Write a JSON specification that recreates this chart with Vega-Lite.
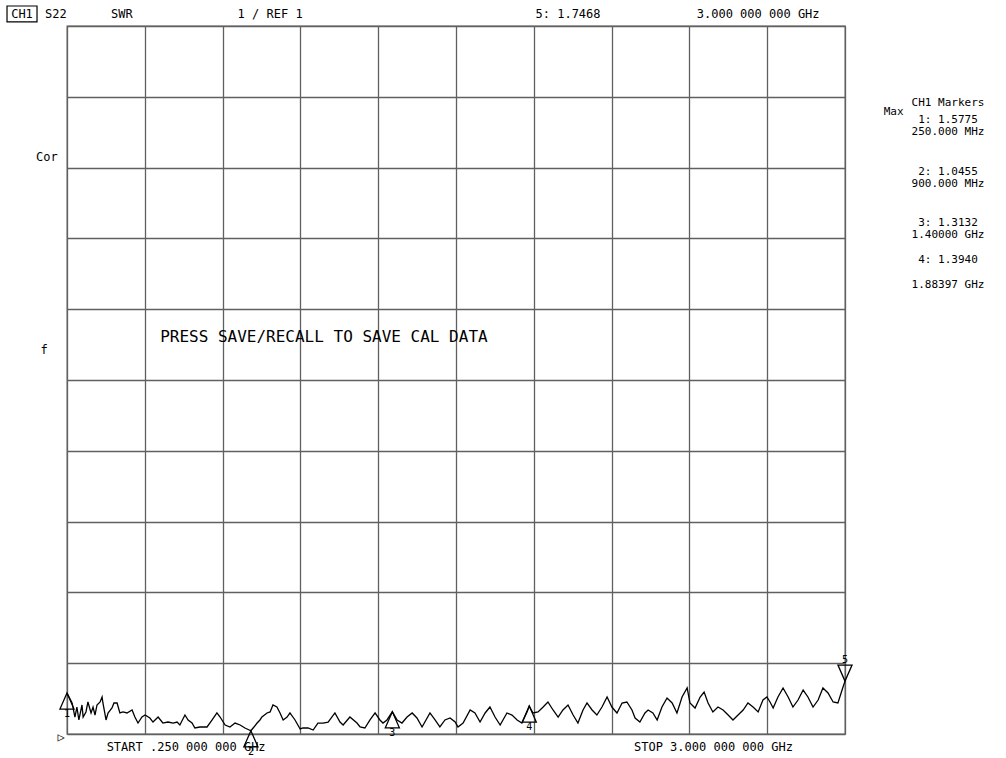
{
  "$schema": "https://vega.github.io/schema/vega-lite/v6.json",
  "width": 778,
  "height": 708,
  "autosize": {"type": "none"},
  "padding": {"left": 67, "top": 26, "right": 161, "bottom": 24},
  "background": "white",
  "config": {
    "view": {"stroke": "#606060", "strokeWidth": 1.3},
    "font": "DejaVu Sans Mono"
  },
  "datasets": {
    "trace": [
      {"f":0.25,"swr":1.5775},{"f":0.268,"swr":1.438},{"f":0.278,"swr":1.24},{"f":0.285,"swr":1.381},{"f":0.292,"swr":1.198},{"f":0.303,"swr":1.41},{"f":0.307,"swr":1.24},{"f":0.317,"swr":1.311},{"f":0.324,"swr":1.452},{"f":0.335,"swr":1.297},{"f":0.342,"swr":1.381},{"f":0.349,"swr":1.268},{"f":0.356,"swr":1.41},{"f":0.367,"swr":1.452},{"f":0.374,"swr":1.523},{"f":0.377,"swr":1.438},{"f":0.388,"swr":1.198},{"f":0.395,"swr":1.297},{"f":0.409,"swr":1.367},{"f":0.416,"swr":1.438},{"f":0.427,"swr":1.438},{"f":0.437,"swr":1.297},{"f":0.448,"swr":1.311},{"f":0.462,"swr":1.297},{"f":0.48,"swr":1.339},{"f":0.49,"swr":1.24},{"f":0.501,"swr":1.155},{"f":0.515,"swr":1.24},{"f":0.526,"swr":1.268},{"f":0.543,"swr":1.226},{"f":0.554,"swr":1.169},{"f":0.572,"swr":1.24},{"f":0.589,"swr":1.155},{"f":0.607,"swr":1.169},{"f":0.625,"swr":1.155},{"f":0.639,"swr":1.169},{"f":0.649,"swr":1.127},{"f":0.667,"swr":1.268},{"f":0.678,"swr":1.198},{"f":0.692,"swr":1.155},{"f":0.702,"swr":1.085},{"f":0.72,"swr":1.099},{"f":0.745,"swr":1.099},{"f":0.763,"swr":1.198},{"f":0.78,"swr":1.297},{"f":0.791,"swr":1.24},{"f":0.809,"swr":1.127},{"f":0.826,"swr":1.099},{"f":0.844,"swr":1.155},{"f":0.862,"swr":1.127},{"f":0.879,"swr":1.085},{"f":0.9,"swr":1.0455},{"f":0.908,"swr":1.085},{"f":0.922,"swr":1.155},{"f":0.932,"swr":1.198},{"f":0.939,"swr":1.24},{"f":0.957,"swr":1.297},{"f":0.968,"swr":1.311},{"f":0.978,"swr":1.41},{"f":0.992,"swr":1.381},{"f":1.003,"swr":1.297},{"f":1.014,"swr":1.198},{"f":1.028,"swr":1.24},{"f":1.038,"swr":1.297},{"f":1.056,"swr":1.198},{"f":1.074,"swr":1.071},{"f":1.084,"swr":1.085},{"f":1.102,"swr":1.085},{"f":1.12,"swr":1.056},{"f":1.137,"swr":1.155},{"f":1.155,"swr":1.155},{"f":1.173,"swr":1.169},{"f":1.197,"swr":1.297},{"f":1.215,"swr":1.169},{"f":1.226,"swr":1.127},{"f":1.25,"swr":1.24},{"f":1.275,"swr":1.155},{"f":1.286,"swr":1.099},{"f":1.303,"swr":1.085},{"f":1.321,"swr":1.198},{"f":1.339,"swr":1.297},{"f":1.356,"swr":1.198},{"f":1.367,"swr":1.155},{"f":1.381,"swr":1.198},{"f":1.4,"swr":1.3132},{"f":1.417,"swr":1.198},{"f":1.434,"swr":1.155},{"f":1.452,"swr":1.24},{"f":1.47,"swr":1.297},{"f":1.487,"swr":1.226},{"f":1.505,"swr":1.099},{"f":1.533,"swr":1.297},{"f":1.551,"swr":1.198},{"f":1.568,"swr":1.099},{"f":1.586,"swr":1.198},{"f":1.604,"swr":1.226},{"f":1.622,"swr":1.169},{"f":1.632,"swr":1.099},{"f":1.65,"swr":1.155},{"f":1.675,"swr":1.339},{"f":1.692,"swr":1.297},{"f":1.71,"swr":1.169},{"f":1.728,"swr":1.297},{"f":1.745,"swr":1.381},{"f":1.763,"swr":1.24},{"f":1.781,"swr":1.127},{"f":1.805,"swr":1.297},{"f":1.823,"swr":1.268},{"f":1.841,"swr":1.198},{"f":1.858,"swr":1.155},{"f":1.876,"swr":1.311},{"f":1.884,"swr":1.394},{"f":1.897,"swr":1.297},{"f":1.915,"swr":1.311},{"f":1.933,"swr":1.381},{"f":1.95,"swr":1.452},{"f":1.968,"swr":1.339},{"f":1.986,"swr":1.24},{"f":2.003,"swr":1.339},{"f":2.021,"swr":1.41},{"f":2.039,"swr":1.268},{"f":2.056,"swr":1.155},{"f":2.074,"swr":1.339},{"f":2.088,"swr":1.438},{"f":2.106,"swr":1.339},{"f":2.123,"swr":1.268},{"f":2.141,"swr":1.381},{"f":2.159,"swr":1.523},{"f":2.176,"swr":1.381},{"f":2.194,"swr":1.297},{"f":2.212,"swr":1.438},{"f":2.229,"swr":1.452},{"f":2.247,"swr":1.339},{"f":2.258,"swr":1.226},{"f":2.275,"swr":1.169},{"f":2.293,"swr":1.297},{"f":2.304,"swr":1.339},{"f":2.321,"swr":1.297},{"f":2.336,"swr":1.198},{"f":2.353,"swr":1.381},{"f":2.371,"swr":1.508},{"f":2.389,"swr":1.438},{"f":2.406,"swr":1.297},{"f":2.424,"swr":1.523},{"f":2.442,"swr":1.65},{"f":2.452,"swr":1.438},{"f":2.47,"swr":1.367},{"f":2.488,"swr":1.523},{"f":2.502,"swr":1.593},{"f":2.516,"swr":1.438},{"f":2.533,"swr":1.311},{"f":2.551,"swr":1.381},{"f":2.569,"swr":1.339},{"f":2.587,"swr":1.268},{"f":2.604,"swr":1.198},{"f":2.622,"swr":1.268},{"f":2.64,"swr":1.339},{"f":2.657,"swr":1.438},{"f":2.675,"swr":1.381},{"f":2.693,"swr":1.311},{"f":2.71,"swr":1.48},{"f":2.724,"swr":1.523},{"f":2.735,"swr":1.452},{"f":2.746,"swr":1.367},{"f":2.763,"swr":1.523},{"f":2.781,"swr":1.65},{"f":2.799,"swr":1.523},{"f":2.816,"swr":1.381},{"f":2.834,"swr":1.48},{"f":2.852,"swr":1.621},{"f":2.869,"swr":1.523},{"f":2.887,"swr":1.381},{"f":2.905,"swr":1.48},{"f":2.922,"swr":1.65},{"f":2.94,"swr":1.579},{"f":2.958,"swr":1.452},{"f":2.975,"swr":1.438},{"f":2.993,"swr":1.664},{"f":3.0,"swr":1.7468}
    ],
    "markers": [
      {"n":"1","f":0.25,"swr":1.5775,"dir":"up"},
      {"n":"2","f":0.9,"swr":1.0455,"dir":"up"},
      {"n":"3","f":1.4,"swr":1.3132,"dir":"up"},
      {"n":"4","f":1.88397,"swr":1.394,"dir":"up"},
      {"n":"5","f":3.0,"swr":1.7468,"dir":"down"}
    ],
    "header": [
      {"t":"CH1","f":0.091,"swr":11.17},
      {"t":"S22","f":0.211,"swr":11.17},
      {"t":"SWR","f":0.444,"swr":11.17},
      {"t":"1 / REF 1","f":0.968,"swr":11.17},
      {"t":"5: 1.7468","f":2.021,"swr":11.17},
      {"t":"3.000 000 000 GHz","f":2.693,"swr":11.17},
      {"t":"Cor","f":0.179,"swr":9.15},
      {"t":"f","f":0.169,"swr":6.42},
      {"t":"START .250 000 000 GHz","f":0.671,"swr":0.816},
      {"t":"STOP 3.000 000 000 GHz","f":2.535,"swr":0.816},
      {"t":"▷","f":0.229,"swr":0.958}
    ],
    "panel": [
      {"t":"CH1 Markers","f":3.364,"swr":9.912},
      {"t":"Max","f":3.172,"swr":9.785},
      {"t":"1: 1.5775","f":3.364,"swr":9.672},
      {"t":"250.000 MHz","f":3.364,"swr":9.503},
      {"t":"2: 1.0455","f":3.364,"swr":8.938},
      {"t":"900.000 MHz","f":3.364,"swr":8.768},
      {"t":"3: 1.3132","f":3.364,"swr":8.217},
      {"t":"1.40000 GHz","f":3.364,"swr":8.048},
      {"t":"4: 1.3940","f":3.364,"swr":7.695},
      {"t":"1.88397 GHz","f":3.364,"swr":7.342}
    ],
    "message": [
      {"t":"PRESS SAVE/RECALL TO SAVE CAL DATA","f":1.158,"swr":6.607}
    ]
  },
  "encoding": {
    "x": {
      "field": "f", "type": "quantitative",
      "scale": {"domain": [0.25, 3.0], "nice": false, "zero": false},
      "axis": {"values": [0.25,0.525,0.8,1.075,1.35,1.625,1.9,2.175,2.45,2.725,3.0], "grid": true, "labels": false, "ticks": false, "domain": false, "title": null, "gridColor": "#606060", "gridWidth": 1.3, "gridOpacity": 1}
    },
    "y": {
      "field": "swr", "type": "quantitative",
      "scale": {"domain": [1, 11], "nice": false, "zero": false},
      "axis": {"values": [1,2,3,4,5,6,7,8,9,10,11], "grid": true, "labels": false, "ticks": false, "domain": false, "title": null, "gridColor": "#606060", "gridWidth": 1.3, "gridOpacity": 1}
    }
  },
  "layer": [
    {
      "data": {"name": "trace"},
      "mark": {"type": "line", "color": "#000000", "strokeWidth": 1.3, "interpolate": "linear"}
    },
    {
      "data": {"name": "markers"},
      "mark": {"type": "point", "filled": false, "stroke": "#000000", "strokeWidth": 1.3, "size": 1024, "opacity": 1},
      "encoding": {
        "shape": {"field": "dir", "type": "nominal", "scale": {"domain": ["up", "down"], "range": ["M0,0L-0.44,1L0.44,1Z", "M0,0L-0.44,-1L0.44,-1Z"]}, "legend": null}
      }
    },
    {
      "data": {"name": "markers"},
      "transform": [{"filter": "datum.dir === 'up'"}],
      "mark": {"type": "text", "fontSize": 10, "baseline": "top", "dy": 16, "align": "center", "color": "#000000"},
      "encoding": {"text": {"field": "n"}}
    },
    {
      "data": {"name": "markers"},
      "transform": [{"filter": "datum.dir === 'down'"}],
      "mark": {"type": "text", "fontSize": 10, "baseline": "bottom", "dy": -16, "align": "center", "color": "#000000"},
      "encoding": {"text": {"field": "n"}}
    },
    {
      "data": {"name": "header"},
      "transform": [{"filter": "datum.t === 'CH1'"}],
      "mark": {"type": "point", "filled": false, "stroke": "#000000", "strokeWidth": 1.2, "size": 900, "opacity": 1, "shape": "M-1,-0.53L1,-0.53L1,0.53L-1,0.53Z"}
    },
    {
      "data": {"name": "header"},
      "mark": {"type": "text", "fontSize": 12, "align": "center", "baseline": "middle", "color": "#000000"},
      "encoding": {"text": {"field": "t"}}
    },
    {
      "data": {"name": "panel"},
      "mark": {"type": "text", "fontSize": 11, "align": "center", "baseline": "middle", "color": "#000000"},
      "encoding": {"text": {"field": "t"}}
    },
    {
      "data": {"name": "message"},
      "mark": {"type": "text", "fontSize": 16, "align": "center", "baseline": "middle", "color": "#000000"},
      "encoding": {"text": {"field": "t"}}
    }
  ]
}
